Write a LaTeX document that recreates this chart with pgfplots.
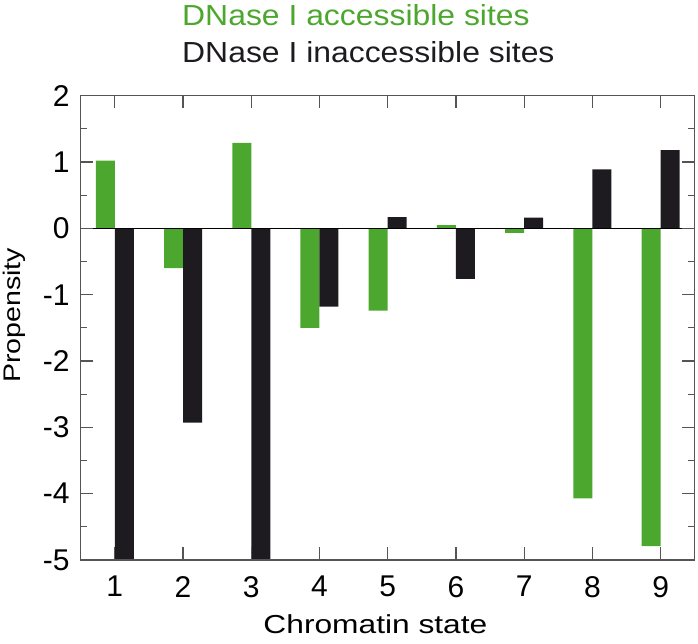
\documentclass[border=0pt]{standalone}
\usepackage{graphicx}
\usepackage{pgfplots}
\pgfplotsset{compat=1.18}
\usepackage{fontspec}
\setmainfont{Liberation Sans}
\definecolor{cgreen}{RGB}{76,167,46}
\definecolor{cblack}{RGB}{29,27,31}
\definecolor{caxis}{RGB}{85,85,85}
\begin{document}
\begin{tikzpicture}[x=1pt,y=1pt]
\path[use as bounding box] (0,0) rectangle (698,643);
\begin{axis}[
  at={(80.7pt,83pt)}, anchor=south west,
  scale only axis, width=614pt, height=464.3pt,
  xmin=0.5, xmax=9.5, ymin=-5, ymax=2,
  xtick={1,...,9}, ytick={-5,...,2}, minor y tick num=1,
  tick align=inside, tickpos=both,
  major tick length=12.7pt, minor tick length=6.7pt,
  axis line style={caxis, line width=1.2pt},
  every tick/.style={caxis, line width=1.2pt},
  ticklabel style={font=\fontsize{30}{36}\selectfont},
  /pgf/number format/assume math mode=true,
  yticklabel style={anchor=east, inner sep=0pt, xshift=-11pt},
  xticklabel style={anchor=north, inner sep=0pt, yshift=-16pt},
  xlabel={\scalebox{1.22}[1]{Chromatin state}},
  ylabel={\scalebox{1.19}[1]{Propensity}},
  xlabel style={font=\fontsize{26}{31}\selectfont, at={(axis description cs:0.48,-0.1575)}, anchor=base},
  ylabel style={font=\fontsize{24}{29}\selectfont, at={(axis description cs:-0.0977,0.527)}, anchor=base},
  axis on top,
]
\addplot[ybar, bar width=19pt, bar shift=-9.5pt, fill=cgreen, draw=none]
  coordinates {(1,1.02) (2,-0.60) (3,1.29) (4,-1.50) (5,-1.24) (6,0.05) (7,-0.07) (8,-4.07) (9,-4.79)};
\addplot[ybar, bar width=19pt, bar shift=9.5pt, fill=cblack, draw=none]
  coordinates {(1,-5) (2,-2.93) (3,-5) (4,-1.18) (5,0.17) (6,-0.76) (7,0.16) (8,0.89) (9,1.18)};
\draw[black, line width=1.6pt] (axis cs:0.5,0) -- (axis cs:9.5,0);
\end{axis}
\node[anchor=base west, text=cgreen, font=\fontsize{29}{34}\selectfont, inner sep=0pt] at (182,617) {\scalebox{1.10}[1]{DNase I accessible sites}};
\node[anchor=base west, text=cblack, font=\fontsize{29}{34}\selectfont, inner sep=0pt] at (182,580) {\scalebox{1.10}[1]{DNase I inaccessible sites}};
\end{tikzpicture}
\end{document}
